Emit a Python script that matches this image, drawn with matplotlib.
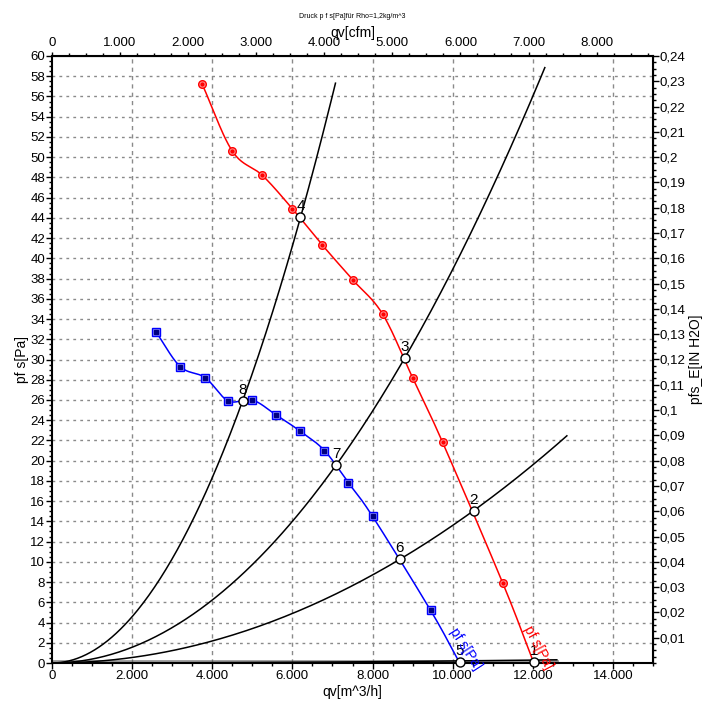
import numpy as np
import matplotlib
matplotlib.use("Agg")
import matplotlib.pyplot as plt
from matplotlib.ticker import MultipleLocator, FixedLocator, FuncFormatter

# fan curve, pfs in Pa over qv in m^3/h
red_qv = [3750, 4500, 5250, 6000, 6750, 7500, 8250, 9000, 9750, 11250, 12025]
red_ps = [57.2, 50.6, 48.2, 44.9, 41.3, 37.9, 34.5, 28.2, 21.8, 7.9, 0.0]
red_marked = 10  # last point has no marker

blue_qv = [2600, 3200, 3825, 4400, 5000, 5600, 6200, 6800, 7400, 8000, 9450, 10175]
blue_ps = [32.7, 29.3, 28.2, 25.9, 26.0, 24.5, 22.9, 21.0, 17.8, 14.5, 5.2, 0.0]
blue_marked = 11

# system curves p = k * qv^2
sys_k = [1.145e-6, 3.89e-7, 1.36e-7, 2.0e-9]
sys_end = [7075, 12300, 12850, 12600]

# operating points
op_qv = [12025, 10525, 8800, 6200, 10175, 8675, 7100, 4757]
op_ps = [0.1, 15.0, 30.1, 44.05, 0.1, 10.3, 19.6, 25.9]
op_labels = ["1", "2", "3", "4", "5", "6", "7", "8"]

right_ticks = [round(0.01 * i, 2) for i in range(1, 25)]
top_ticks = [1000 * i for i in range(0, 9)]

PA_PER_INH2O = 250.0
M3H_PER_CFM = 1.699


def smooth(xs, ys, n=24):
    # catmull-rom through the given points
    p = np.column_stack([xs, ys]).astype(float)
    p = np.vstack([2 * p[0] - p[1], p, 2 * p[-1] - p[-2]])
    out = []
    t = np.linspace(0, 1, n)[:, None]
    for i in range(1, len(p) - 2):
        p0, p1, p2, p3 = p[i - 1], p[i], p[i + 1], p[i + 2]
        seg = 0.5 * ((2 * p1) + (-p0 + p2) * t + (2 * p0 - 5 * p1 + 4 * p2 - p3) * t ** 2
                     + (-p0 + 3 * p1 - 3 * p2 + p3) * t ** 3)
        out.append(seg)
    out = np.vstack(out)
    return out[:, 0], out[:, 1]


def thousands(v, pos):
    return "{:,.0f}".format(v).replace(",", ".")


def comma_dec(v, pos):
    if abs(v) < 1e-9:
        return ""
    s = "{:.2f}".format(v).rstrip("0").rstrip(".")
    return s.replace(".", ",")


plt.rcParams["font.family"] = ["Liberation Sans", "DejaVu Sans"]

fig = plt.figure(figsize=(7.14, 7.10), dpi=100)
ax = fig.add_axes([52 / 714, 47 / 710, 601 / 714, 607 / 710])

ax.set_xlim(0, 15000)
ax.set_ylim(0, 60)

# grid
for gx in range(2000, 15000, 2000):
    ax.axvline(gx, color="#8a8a8a", lw=1, ls=(0, (3, 3)), zorder=0)
for gy in range(2, 60, 2):
    ax.axhline(gy, color="#8a8a8a", lw=1, ls=(0, (2, 3)), zorder=0)

# system curves
for k, qe in zip(sys_k, sys_end):
    q = np.linspace(0, qe, 200)
    ax.plot(q, k * q ** 2, color="black", lw=1.1, zorder=2)
ax.plot([0, 12600], [0.15, 0.15], color="#555555", lw=2, zorder=1, alpha=0.6)

# fan curves
sx, sy = smooth(red_qv, red_ps)
ax.plot(sx, sy, color="red", lw=1.1, zorder=3)
ax.plot(red_qv[:red_marked], red_ps[:red_marked], ls="none", marker="o", ms=5.5,
        mfc="#ff9090", mec="red", mew=1, zorder=4)
ax.plot(red_qv[:red_marked], red_ps[:red_marked], ls="none", marker="o", ms=2,
        color="red", zorder=5)

sx, sy = smooth(blue_qv, blue_ps)
ax.plot(sx, sy, color="blue", lw=1.1, zorder=3)
ax.plot(blue_qv[:blue_marked], blue_ps[:blue_marked], ls="none", marker="s", ms=6,
        mfc="#9090ff", mec="blue", mew=1, zorder=4)
ax.plot(blue_qv[:blue_marked], blue_ps[:blue_marked], ls="none", marker="s", ms=2.2,
        color="#000080", zorder=5)

# operating points
ax.plot(op_qv, op_ps, ls="none", marker="o", ms=6.5, mfc="white", mec="black",
        mew=1, zorder=6, clip_on=False)
for q, p, lab in zip(op_qv, op_ps, op_labels):
    ax.text(q, p + 0.4, lab, fontsize=11, ha="center", va="bottom", color="black",
            zorder=7)

ax.text(10000, 3.3, "pf s[Pa]", color="blue", fontsize=10, rotation=-57,
        rotation_mode="anchor", ha="left", va="center", zorder=7)
ax.text(11850, 3.6, "pf s[Pa]", color="red", fontsize=10, rotation=-62,
        rotation_mode="anchor", ha="left", va="center", zorder=7)

# axes styling
for sp in ax.spines.values():
    sp.set_linewidth(1.5)
ax.xaxis.set_major_locator(MultipleLocator(2000))
ax.xaxis.set_minor_locator(MultipleLocator(500))
ax.xaxis.set_major_formatter(FuncFormatter(thousands))
ax.yaxis.set_major_locator(MultipleLocator(2))
ax.yaxis.set_minor_locator(MultipleLocator(0.5))
ax.tick_params(which="major", length=4, width=1, labelsize=9.5, pad=1)
ax.tick_params(which="minor", length=2.5, width=1)
ax.set_xlabel("qv[m^3/h]", fontsize=10, labelpad=2)
ax.set_ylabel("pf s[Pa]", fontsize=10, labelpad=1)

top = ax.secondary_xaxis("top", functions=(lambda q: q / M3H_PER_CFM,
                                           lambda c: c * M3H_PER_CFM))
top.xaxis.set_major_locator(FixedLocator(top_ticks))
top.xaxis.set_minor_locator(MultipleLocator(250))
top.xaxis.set_major_formatter(FuncFormatter(thousands))
top.tick_params(which="major", length=3, width=1, labelsize=9.5, pad=2)
top.tick_params(which="minor", length=2, width=1)
top.set_xlabel("qv[cfm]", fontsize=10, labelpad=0)

right = ax.secondary_yaxis("right", functions=(lambda p: p / PA_PER_INH2O,
                                               lambda h: h * PA_PER_INH2O))
right.yaxis.set_major_locator(FixedLocator(right_ticks))
right.yaxis.set_minor_locator(MultipleLocator(0.0025))
right.yaxis.set_major_formatter(FuncFormatter(comma_dec))
right.tick_params(which="major", length=4, width=1, labelsize=9.5, pad=1)
right.tick_params(which="minor", length=2.5, width=1)
right.set_ylabel("pfs_E[IN H2O]", fontsize=10, labelpad=2)

fig.text(352 / 714, 1 - 16 / 710, "Druck p f s[Pa]für Rho=1,2kg/m^3", fontsize=5,
         ha="center", va="center")

fig.savefig("out.png", dpi=100)
